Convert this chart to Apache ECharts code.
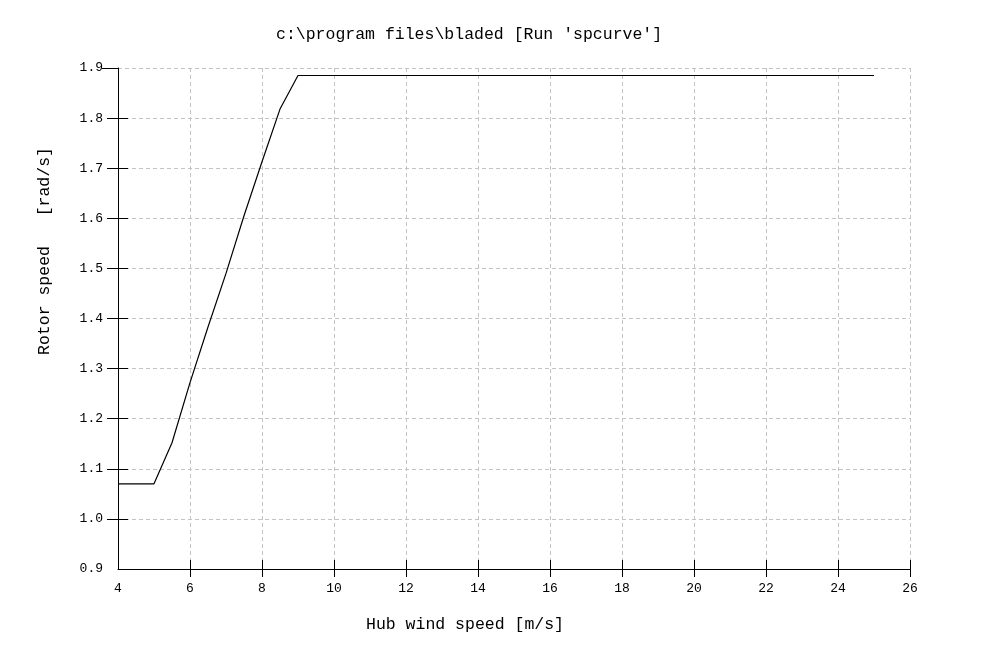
<!DOCTYPE html>
<html>
<head>
<meta charset="utf-8">
<script src="https://cdn.jsdelivr.net/npm/echarts@6/dist/echarts.min.js"></script>
<style>
	html, body { margin: 0; padding: 0; background: #fff; }
</style>
</head>
<body>
<div id="main" style="width: 984px; height: 655px"></div>
<script>
// hub wind speed [m/s]
const windSpeed = [4, 5, 5.5, 6, 6.5, 7, 7.5, 8, 8.5, 9, 10, 12, 14, 16, 18, 20, 22, 24, 25]
// rotor speed [rad/s]
const rotorSpeed = [1.07, 1.07, 1.152, 1.272, 1.383, 1.49, 1.605, 1.713, 1.818, 1.885, 1.885, 1.885, 1.885, 1.885, 1.885, 1.885, 1.885, 1.885, 1.885]

const xTicks = [4, 6, 8, 10, 12, 14, 16, 18, 20, 22, 24, 26]
const yTicks = ['0.9', '1.0', '1.1', '1.2', '1.3', '1.4', '1.5', '1.6', '1.7', '1.8', '1.9']

const font = '"Liberation Mono", "DejaVu Sans Mono", monospace'

const myChart = echarts.init(document.getElementById('main'))

const points = windSpeed.map((w, i) => [w, rotorSpeed[i]])
const yValues = yTicks.map(Number)

const gridLine = { show: true, lineStyle: { color: '#c4c4c4', type: [4, 3], width: 1 } }

// a bare axis that only draws tick marks
const tickAxis = (min, max, ticks, inside, length, position) => ({
	type: 'value',
	position: position,
	min: min,
	max: max,
	axisLine: { show: false },
	axisTick: { show: true, inside: inside, length: length, customValues: ticks, lineStyle: { color: '#000' } },
	axisLabel: { show: false },
	splitLine: { show: false }
})

myChart.setOption({
	animation: false,
	backgroundColor: '#fff',
	title: {
		text: "c:\\program files\\bladed [Run 'spcurve']",
		left: 271,
		top: 21,
		textStyle: { fontFamily: font, fontSize: 16.5, fontWeight: 'normal', color: '#000' }
	},
	grid: { left: 118, right: 74, top: 68, bottom: 86 },
	xAxis: [
		{
			type: 'value',
			min: xTicks[0],
			max: xTicks[xTicks.length - 1],
			interval: 2,
			axisLine: { show: true, lineStyle: { color: '#000', width: 1 } },
			axisTick: { show: false },
			axisLabel: { color: '#000', fontFamily: font, fontSize: 13, margin: 13 },
			splitLine: gridLine
		},
		tickAxis(xTicks[0], xTicks[xTicks.length - 1], xTicks.slice(1), false, 8, 'bottom'),
		tickAxis(xTicks[0], xTicks[xTicks.length - 1], xTicks.slice(1), true, 9, 'bottom')
	],
	yAxis: [
		{
			type: 'value',
			min: yValues[0],
			max: yValues[yValues.length - 1],
			interval: 0.1,
			axisLine: { show: true, lineStyle: { color: '#000', width: 1 } },
			axisTick: { show: false },
			axisLabel: {
				color: '#000', fontFamily: font, fontSize: 13, margin: 15,
				formatter: v => yTicks[Math.round((v - 0.9) * 10)]
			},
			splitLine: gridLine
		},
		tickAxis(yValues[0], yValues[yValues.length - 1], yValues.slice(1, -1), false, 11, 'left'),
		tickAxis(yValues[0], yValues[yValues.length - 1], yValues.slice(1, -1), true, 10, 'left'),
		tickAxis(yValues[0], yValues[yValues.length - 1], yValues.slice(-1), false, 16, 'left')
	],
	graphic: [
		{
			type: 'text',
			x: 465,
			y: 625,
			style: {
				text: 'Hub wind speed [m/s]',
				font: '16.5px ' + font,
				fill: '#000',
				textAlign: 'center',
				textVerticalAlign: 'middle'
			}
		},
		{
			type: 'text',
			x: 45,
			y: 251,
			rotation: Math.PI / 2,
			style: {
				text: 'Rotor speed   [rad/s]',
				font: '16.5px ' + font,
				fill: '#000',
				textAlign: 'center',
				textVerticalAlign: 'middle'
			}
		}
	],
	series: [
		{
			type: 'line',
			xAxisIndex: 0,
			yAxisIndex: 0,
			data: points,
			showSymbol: false,
			symbol: 'none',
			lineStyle: { color: '#000', width: 1.2 }
		}
	]
})
</script>
</body>
</html>
